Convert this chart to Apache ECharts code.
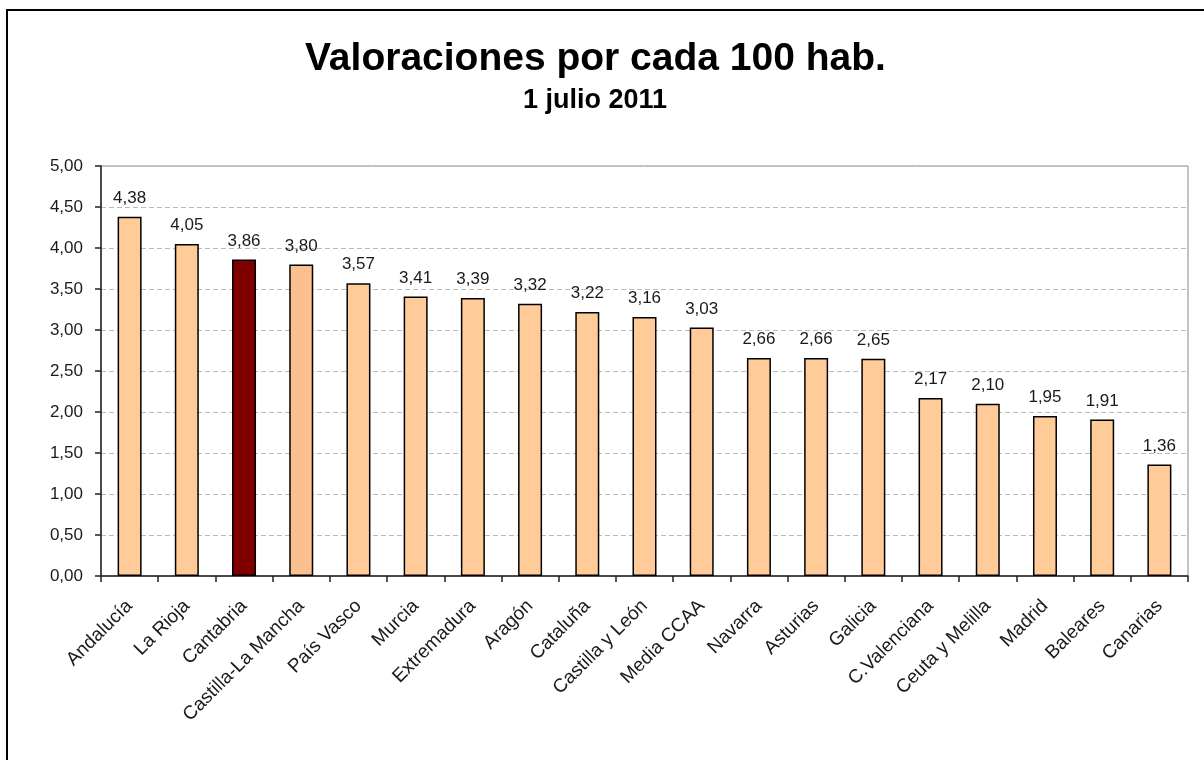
<!DOCTYPE html>
<html>
<head>
<meta charset="utf-8">
<script src="https://cdn.jsdelivr.net/npm/echarts@6/dist/echarts.min.js"></script>
<style>
  html, body { margin: 0; padding: 0; background: #fff; }
  #container { width: 1204px; height: 760px; }
</style>
</head>
<body>
<div id="container"></div>
<script>
// datos
var regiones = ['Andalucía', 'La Rioja', 'Cantabria', 'Castilla-La Mancha', 'País Vasco', 'Murcia',
  'Extremadura', 'Aragón', 'Cataluña', 'Castilla y León', 'Media CCAA', 'Navarra', 'Asturias',
  'Galicia', 'C.Valenciana', 'Ceuta y Melilla', 'Madrid', 'Baleares', 'Canarias'];
var valoraciones = [4.38, 4.05, 3.86, 3.80, 3.57, 3.41, 3.39, 3.32, 3.22, 3.16, 3.03, 2.66, 2.66,
  2.65, 2.17, 2.10, 1.95, 1.91, 1.36];
var destacadas = { 'Cantabria': '#800000', 'Castilla-La Mancha': '#FAC090' };

var myChart = echarts.init(document.getElementById('container'));

function coma(v) {
  return v.toFixed(2).replace('.', ',');
}

var option = {
  animation: false,
  textStyle: { fontFamily: 'Liberation Sans, Arial, sans-serif' },
  title: [
    {
      text: 'Valoraciones por cada 100 hab.',
      left: 300,
      top: 35,
      textStyle: { fontSize: 39, fontWeight: 'bold', color: '#000' }
    },
    {
      text: '1 julio 2011',
      left: 518,
      top: 82,
      textStyle: { fontSize: 27, fontWeight: 'bold', color: '#000' }
    }
  ],
  graphic: [
    {
      type: 'rect',
      shape: { x: 7, y: 10, width: 1300, height: 800 },
      style: { fill: 'none', stroke: '#000', lineWidth: 2 },
      silent: true
    }
  ],
  grid: {
    left: 101,
    right: 16,
    top: 166,
    bottom: 184,
    show: true,
    borderColor: '#888',
    borderWidth: 1
  },
  xAxis: {
    type: 'category',
    data: regiones,
    axisLine: { lineStyle: { color: '#222', width: 1.5 } },
    axisTick: { show: true, length: 6, lineStyle: { color: '#222', width: 1.5 } },
    axisLabel: {
      interval: 0,
      rotate: 45,
      margin: 27,
      fontSize: 19,
      color: '#1a1a1a'
    }
  },
  yAxis: {
    type: 'value',
    min: 0,
    max: 5,
    interval: 0.5,
    axisLine: { show: true, lineStyle: { color: '#222', width: 1.5 } },
    axisTick: { show: true, length: 6, lineStyle: { color: '#222', width: 1.5 } },
    axisLabel: { fontSize: 17, color: '#1a1a1a', margin: 18, formatter: coma },
    splitLine: { lineStyle: { color: '#bbb', type: [5, 3] } }
  },
  series: [
    {
      type: 'bar',
      barWidth: 24,
      data: valoraciones.map(function (v, i) {
        return {
          value: v,
          itemStyle: { color: destacadas[regiones[i]] || '#FFCC99' }
        };
      }),
      itemStyle: { borderColor: '#000', borderWidth: 1.5 },
      label: {
        show: true,
        position: 'top',
        distance: 10,
        fontSize: 17,
        color: '#1a1a1a',
        formatter: function (p) { return coma(p.value); }
      }
    }
  ]
};

myChart.setOption(option);
</script>
</body>
</html>
